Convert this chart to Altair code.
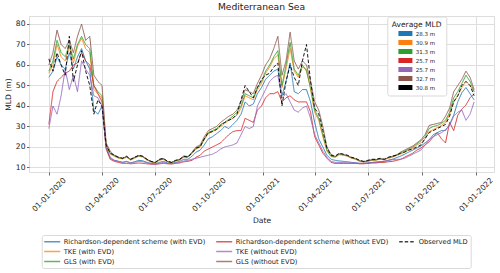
import altair as alt
import pandas as pd

# ---------------- data (weekly readings from the reference) ----------------
start_date = "2020-01-01"
n_points = 105  # weekly samples, 2020-01-01 .. 2021-12-29

rich_evd = [54, 57, 64, 60, 58, 66, 58, 64, 68, 62, 58, 38, 36, 40,
            20, 14.5,
            13.5, 13, 12.5, 13, 12.3, 12.8, 13.5, 13.2, 12.5, 12, 11.8, 12.5, 13, 12.2, 12, 12.5, 13, 14, 14, 15.5,
            17.5, 18.5, 21, 24, 25, 26.5, 28, 30, 29, 31, 33, 36, 42, 40, 41, 46,
            49, 53, 55, 57, 58, 45, 52, 61, 47, 46, 48, 48, 42, 32, 24, 20, 16, 14,
            13.5, 13.2, 13, 12.8, 12.5, 12.3, 12, 12, 12.2, 12.4, 12.6, 12.8, 13, 13.5, 14, 14.8,
            15.5, 16.5, 17.5, 18.5, 19.5, 20.5, 22, 23.5, 26, 27, 28, 28, 31, 35.5, 42, 46.5, 49, 46, 43]
tke_evd = [56, 60, 70, 64, 62, 69, 61, 69, 73, 68, 66, 48, 46, 44,
           21, 16.5,
           15.5, 14.6, 14.2, 15, 13.6, 14.6, 15.5, 15.1, 13.6, 12.7, 12.2, 13.5, 14, 12.8, 12.3, 13.2, 13.6, 15, 15, 16.8,
           19, 20, 23.5, 26.5, 27.5, 28.5, 30, 31.5, 33, 34, 35.5, 39, 45, 44, 43, 48,
           51, 56, 59, 63, 65, 49, 58, 68, 57, 54, 59, 58, 48, 37, 33, 25, 18, 15.3,
           15, 16.2, 16, 15.5, 14.5, 14, 13, 12.6, 13, 13.5, 13.6, 14, 13.7, 14.5, 15, 15.8,
           16.5, 17.5, 18.5, 19.5, 21, 22, 24, 27.5, 28.5, 29.5, 30.5, 32, 36, 42, 45, 49, 52, 50, 47]
gls_evd = [57, 62, 72, 66, 64, 70, 63, 70, 74, 70, 68, 50, 47, 45,
           21, 17,
           15.8, 14.8, 14.3, 15.3, 13.8, 14.8, 15.7, 15.3, 13.8, 12.8, 12.3, 13.7, 14.2, 12.9, 12.4, 13.3, 13.8, 15.3, 15.2, 17.2,
           19.5, 20.5, 24, 27, 28, 29, 31, 32, 33.5, 35, 37, 40, 46, 45, 44, 49,
           52, 57, 60, 64, 67, 50, 60, 71, 58, 55, 60, 57, 49, 38, 34, 26, 18.5, 15.5,
           15.2, 16.5, 16.2, 15.7, 14.7, 14.2, 13.2, 12.8, 13.2, 13.7, 13.7, 14.2, 13.8, 14.8, 15.5, 16.2,
           17, 18, 19, 20, 21.5, 23, 25, 29, 30, 30.5, 31.5, 33, 37, 44, 47, 51, 55, 52, 47]
rich_noevd = [31, 47, 52, 54, 56, 57, 60, 61, 66, 62, 60, 50, 46, 42,
              19, 14,
              13, 12.5, 12, 12, 11.8, 12, 12.2, 12, 11.8, 11.6, 11.5, 11.8, 12, 11.8, 11.7, 12, 12.2, 12.8, 13, 13.5,
              15, 16, 18, 19, 20, 21, 22, 24, 26, 27.5, 28, 28, 34, 33, 32, 38,
              40, 44, 46, 46, 47, 42, 44, 45, 43, 42, 42, 42, 37, 25, 21, 17, 14.5, 12.5,
              12, 12, 12, 12, 12, 12, 11.8, 11.8, 12, 12.2, 12.2, 12.5, 12.5, 12.8, 13, 13.4,
              14, 15, 16, 17, 18.5, 19.5, 21, 22.5, 25, 27, 24, 22, 32, 28, 35.5, 38.5, 40.5, 44, 46]
tke_noevd = [29, 40, 36, 45, 58, 48, 55, 47, 62, 58, 55, 45, 44, 40,
             20, 15,
             13.5, 13, 12.5, 12.8, 12.2, 12.6, 13, 12.8, 12.3, 11.8, 11.6, 12, 12.5, 12, 11.8, 12.2, 12.5, 13.2, 13.5, 14,
             14.5, 15, 15.5, 16, 16.5, 17.5, 19, 20, 20.5, 21, 22, 26, 30, 29, 30, 40,
             44, 48, 52, 54, 55, 44, 46, 42, 38, 37, 39, 40, 34, 26, 22, 18, 15, 13,
             12.5, 12.5, 12.4, 12.3, 12.2, 12.2, 12, 12, 12.2, 12.5, 12.6, 12.8, 13, 13.5, 13.8, 14,
             14, 14.5, 15.5, 16.5, 17.5, 18.5, 21, 23.5, 25, 26, 27, 28.5, 30.5, 35, 37, 38, 33, 36, 42]
gls_noevd = [60, 66, 77, 70, 68, 72, 66, 74, 80, 72, 74, 55, 52, 50,
             22, 18,
             16, 15, 14.5, 15.3, 14, 15, 15.8, 15.3, 13.9, 12.9, 12.4, 13.8, 14.3, 13, 12.5, 13.4, 14, 15.6, 15.4, 17.5,
             20, 21, 25, 28, 29, 30, 32, 33.5, 35, 36, 38, 42, 48, 47, 46, 51,
             55, 60, 63, 68, 74, 55, 62, 76, 62, 58, 62, 60, 52, 42, 38, 30, 20, 16.5,
             15.3, 16.7, 16.3, 15.8, 14.8, 14.3, 13.3, 12.8, 13.3, 13.8, 13.8, 14.3, 14, 14.8, 15.3, 16,
             17.5, 18.5, 19.5, 20.5, 22, 23.5, 26, 30.5, 31, 31.5, 32, 35, 39, 47, 50, 53, 57, 54, 48]
observed = [63, 57, 66, 60, 55, 74, 52, 60, 67, 57, 50, 36, 43, 40,
            21, 17,
            16, 15, 14.5, 15.5, 14, 15, 16, 15.5, 14, 13, 12.5, 14, 14.5, 13, 12.5, 13.5, 14, 15.5, 15, 17,
            19.5, 20, 24, 27, 27.5, 28.5, 30.5, 32, 33, 34, 36, 43, 50, 47, 44, 49,
            53, 55, 56, 59, 61, 40, 52, 60, 54, 50, 62, 70, 52, 39, 36, 28, 19.5, 16,
            15.5, 17, 16.5, 16, 15, 14.5, 13.5, 13, 13.5, 14, 14, 14.5, 14, 15, 15.5, 16,
            17, 17.5, 18.5, 19, 20, 21, 24, 27, 28, 29, 30, 31, 35, 42, 45, 50, 52, 50, 45]

series_names = ["Richardson-dependent scheme (with EVD)", "TKE (with EVD)", "GLS (with EVD)",
                "Richardson-dependent scheme (without EVD)", "TKE (without EVD)", "GLS (without EVD)",
                "Observed MLD"]
series_values = [rich_evd, tke_evd, gls_evd, rich_noevd, tke_noevd, gls_noevd, observed]
series_colors = ["#1f77b4", "#ff7f0e", "#2ca02c", "#d62728", "#9467bd", "#8c564b", "#000000"]
average_labels = ["28.3 m", "30.9 m", "31.3 m", "25.7 m", "25.7 m", "32.7 m", "30.8 m"]

y_ticks = [10, 20, 30, 40, 50, 60, 70, 80]
x_tick_dates = [(2020, 1), (2020, 4), (2020, 7), (2020, 10), (2021, 1), (2021, 4),
                (2021, 7), (2021, 10), (2022, 1)]

# ---------------- tables ----------------
dates = pd.date_range(start_date, periods=n_points, freq="7D").strftime("%Y-%m-%dT00:00:00Z")
rows = []
for name, vals in zip(series_names, series_values):
    for d, v in zip(dates, vals):
        rows.append({"date": d, "mld": v, "series": name})
df = pd.DataFrame(rows)

avg_df = pd.DataFrame({"date": [dates[50]] * len(series_names),
                       "mld": [40] * len(series_names),
                       "model": series_names})

# bottom legend: Vega fills 3 rows column by column; one blank slot keeps
# the GLS entries on the third row, as in the reference
blank = "_blank"
legend_domain = series_names + [blank]
legend_colors = series_colors + ["transparent"]
legend_dashes = [[3.5, 2] if s == "Observed MLD" else [1, 0] for s in legend_domain]

font = "DejaVu Sans"

bottom_legend = alt.Legend(
    title=None, orient="none", legendX=12.7, legendY=219, columns=3,
    symbolType="M-1.33,0H4", symbolSize=36, symbolStrokeWidth=1.5, symbolOpacity=0.75,
    labelFont=font, labelFontSize=6.7, labelColor="#222", labelOffset=11.5,
    columnPadding=7, rowPadding=2, padding=2.5,
    strokeColor="#d9d9d9", fillColor="white", cornerRadius=2,
    labelExpr=f"datum.label == '{blank}' ? '' : datum.label",
)

x_scale = alt.Scale(type="utc", domain=[alt.DateTime(year=2019, month=11, date=28, utc=True),
                                        alt.DateTime(year=2022, month=2, date=1, utc=True)])
y_scale = alt.Scale(domain=[7.8, 83.9], nice=False, zero=False)

x_axis = alt.Axis(
    title="Date", values=[alt.DateTime(year=y, month=m, date=1, utc=True) for y, m in x_tick_dates],
    tickCount=20,
    format="%d-%m-%Y", labelAngle=-45, labelAlign="center", labelBaseline="middle",
    labelPadding=19.5, tickSize=3, labelFont=font, labelFontSize=7.6, labelColor="#222",
    titleFont=font, titleFontSize=7.6, titleFontWeight="normal", titleColor="#222", titlePadding=4,
    gridColor="#dedede", tickColor="#666", domain=False, labelOverlap=False, labelFlush=False,
)
y_axis = alt.Axis(
    title="MLD (m)", values=y_ticks, tickCount=20, tickSize=2.5, labelPadding=1.5, labelOverlap=False,
    labelFont=font, labelFontSize=7.6, labelColor="#222",
    titleFont=font, titleFontSize=7.6, titleFontWeight="normal", titleColor="#222", titlePadding=2.5,
    gridColor="#dedede", tickColor="#666", domain=False,
)

lines = alt.Chart(df).mark_line(strokeWidth=1, opacity=0.9).encode(
    x=alt.X("date:T", scale=x_scale, axis=x_axis),
    y=alt.Y("mld:Q", scale=y_scale, axis=y_axis),
    color=alt.Color("series:N", scale=alt.Scale(domain=legend_domain, range=legend_colors),
                    legend=bottom_legend),
    strokeDash=alt.StrokeDash("series:N", scale=alt.Scale(domain=legend_domain, range=legend_dashes),
                              legend=bottom_legend),
    strokeWidth=alt.condition(alt.datum.series == "Observed MLD", alt.value(1.3), alt.value(1)),
)

label_map = "{" + ",".join(f"'{s}':'{a}'" for s, a in zip(series_names, average_labels)) + "}"
avg_legend = alt.Legend(
    title="Average MLD", orient="none", legendX=358.3, legendY=0.5,
    titleFont=font, titleFontSize=7.5, titleFontWeight="normal", titleColor="#222",
    titleAnchor="start", titlePadding=2,
    symbolType="M1.2,-0.83H5.87V0.83H1.2Z", symbolSize=36, symbolOpacity=1, symbolStrokeWidth=0,
    labelFont=font, labelFontSize=5.5, labelColor="#222", labelOffset=18,
    rowPadding=2, padding=4.5,
    strokeColor="#d9d9d9", fillColor="white", cornerRadius=2,
    labelExpr=f"{label_map}[datum.label]",
)
avg_points = alt.Chart(avg_df).mark_square(opacity=0, size=1).encode(
    x="date:T",
    y="mld:Q",
    fill=alt.Fill("model:N", scale=alt.Scale(domain=series_names, range=series_colors),
                  legend=avg_legend),
)

chart = alt.layer(lines, avg_points).properties(
    width=465, height=156,
    title=alt.TitleParams("Mediterranean Sea", font=font, fontSize=9.2, fontWeight="normal",
                          color="#222", offset=4),
    autosize=alt.AutoSizeParams(type="none"),
    padding={"left": 29, "top": 16, "right": 6, "bottom": 101},
).configure_view(stroke="#777", strokeWidth=1).configure_title(fontWeight="normal").configure(
    background="white")

chart.save("out.html", embed_options={"renderer": "svg", "actions": False})
